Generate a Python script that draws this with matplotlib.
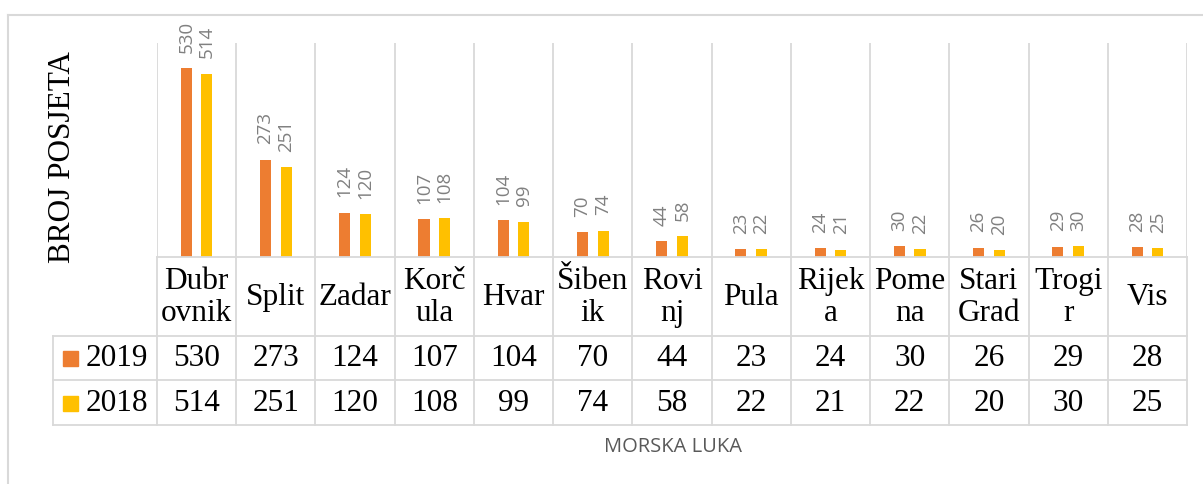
import matplotlib.pyplot as plt
from matplotlib.transforms import blended_transform_factory
from matplotlib.patches import Rectangle
from matplotlib.lines import Line2D

ports = ['Dubr\novnik', 'Split', 'Zadar', 'Korč\nula', 'Hvar', 'Šiben\nik', 'Rovi\nnj',
         'Pula', 'Rijek\na', 'Pome\nna', 'Stari\nGrad', 'Trogi\nr', 'Vis']
visits_2019 = [530, 273, 124, 107, 104, 70, 44, 23, 24, 30, 26, 29, 28]
visits_2018 = [514, 251, 120, 108, 99, 74, 58, 22, 21, 22, 20, 30, 25]
years = ['2019', '2018']

W, H = 1203, 484
c19 = '#ED7D31'
c18 = '#FFC000'
grid_c = '#d9d9d9'
serif = 'Liberation Serif'

fig = plt.figure(figsize=(W / 100, H / 100), dpi=100)


def fy(py):
    # pixel from top -> figure fraction
    return 1 - py / H


def fx(px):
    return px / W


ax_top, ax_bot, ax_l, ax_r = 43, 257, 157, 1187
ax = fig.add_axes([fx(ax_l), fy(ax_bot), fx(ax_r - ax_l), (ax_bot - ax_top) / H])

n = len(ports)
x = list(range(n))
bw = 0.14
off = 0.13
ax.bar([i - off for i in x], visits_2019, width=bw, color=c19)
ax.bar([i + off for i in x], visits_2018, width=bw, color=c18)

for vals, sgn in [(visits_2019, -1), (visits_2018, 1)]:
    for i, v in enumerate(vals):
        ax.annotate(str(v), (i + sgn * off, v), xytext=(0, 11), textcoords='offset points',
                    rotation=90, ha='center', va='bottom', color='#808080',
                    fontsize=13.5, family='Open Sans', annotation_clip=False)

ax.set_xlim(-0.5, n - 0.5)
ax.set_ylim(0, 600)
for s in ['top', 'left', 'right']:
    ax.spines[s].set_visible(False)
ax.spines['bottom'].set_color(grid_c)
ax.spines['bottom'].set_linewidth(1.3)
ax.set_xticks([])
ax.set_yticks([])
for b in range(n + 1):
    ax.axvline(b - 0.5, color=grid_c, lw=1.3, zorder=0)

# data table below the axes
tr = blended_transform_factory(ax.transData, fig.transFigure)
unit = (ax_r - ax_l) / n
x_lab = -0.5 - (ax_l - 53) / unit
r0, r1, r2, r3 = ax_bot, 336, 380, 425


def hline(x0, x1, py):
    fig.add_artist(Line2D([x0, x1], [fy(py), fy(py)], transform=tr, color=grid_c, lw=1.3))


def vline(xx, p0, p1):
    fig.add_artist(Line2D([xx, xx], [fy(p0), fy(p1)], transform=tr, color=grid_c, lw=1.3))


for py in [r1, r2, r3]:
    hline(x_lab, n - 0.5, py)
for b in range(n + 1):
    vline(b - 0.5, r0, r3)
vline(x_lab, r1, r3)

for i, name in enumerate(ports):
    fig.text(i, fy((r0 + r1) / 2 + 1), name, transform=tr, ha='center', va='center',
             fontsize=22.5, family=serif, linespacing=1.12)
for row, vals in [((r1 + r2) / 2, visits_2019), ((r2 + r3) / 2, visits_2018)]:
    for i, v in enumerate(vals):
        fig.text(i, fy(row + 1), str(v), transform=tr, ha='center', va='center',
                 fontsize=22.5, family=serif)

for row, yr, col in [((r1 + r2) / 2, years[0], c19), ((r2 + r3) / 2, years[1], c18)]:
    fig.add_artist(Rectangle((fx(63), fy(row + 8)), fx(15), 15 / H,
                             transform=fig.transFigure, color=col))
    fig.text(fx(86), fy(row + 1), yr, ha='left', va='center', fontsize=22.5, family=serif)

fig.text(fx(62), fy(157), 'BROJ POSJETA', rotation=90, ha='center', va='center',
         fontsize=22.5, family=serif)
fig.text(fx(673), fy(447), 'MORSKA LUKA', ha='center', va='center', fontsize=14.5,
         family='Open Sans', color='#595959')

# outer chart frame
fig.add_artist(Line2D([fx(7.5), fx(7.5)], [0, fy(15)], color=grid_c, lw=1.5))
fig.add_artist(Line2D([fx(7.5), 1], [fy(15), fy(15)], color=grid_c, lw=1.5))

fig.savefig('out.png', dpi=100)
